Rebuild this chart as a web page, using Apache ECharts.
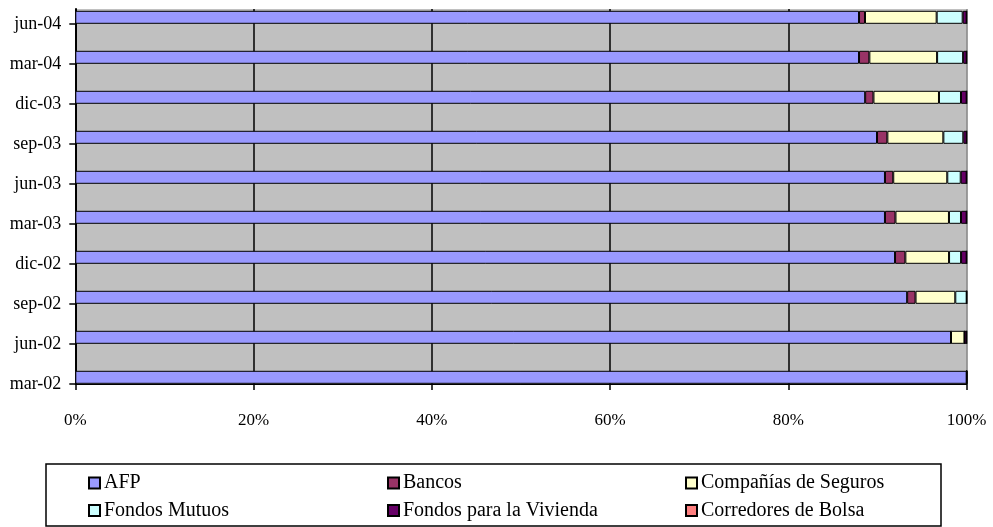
<!DOCTYPE html>
<html>
<head>
<meta charset="utf-8">
<script src="https://cdn.jsdelivr.net/npm/echarts@6/dist/echarts.min.js"></script>
<style>
  html, body { margin: 0; padding: 0; background: #ffffff; }
  #chart { width: 993px; height: 527px; }
</style>
</head>
<body>
<div id="chart"></div>
<script>
// Quarterly dates, bottom to top
const categories = ['mar-02', 'jun-02', 'sep-02', 'dic-02', 'mar-03', 'jun-03', 'sep-03', 'dic-03', 'mar-04', 'jun-04'];

// Share of holdings by holder type (%)
const afp        = [100, 98.24, 93.32, 91.96, 90.83, 90.83, 89.94, 88.61, 87.92, 87.92];
const bancos     = [0, 0, 0.94, 1.16, 1.18, 0.93, 1.16, 0.93, 1.16, 0.67];
const seguros    = [0, 1.51, 4.46, 4.90, 6.00, 6.06, 6.28, 7.35, 7.60, 8.04];
const mutuos     = [0, 0, 1.28, 1.35, 1.35, 1.51, 2.24, 2.47, 2.92, 2.92];
const vivienda   = [0, 0.25, 0, 0.63, 0.64, 0.67, 0.38, 0.64, 0.40, 0.45];
const corredores = [0, 0, 0, 0, 0, 0, 0, 0, 0, 0];

const xTicks = [0, 20, 40, 60, 80, 100];

const seriesDefs = [
  { name: 'AFP', data: afp, color: '#9999FF' },
  { name: 'Bancos', data: bancos, color: '#993366' },
  { name: 'Compañías de Seguros', data: seguros, color: '#FFFFCC' },
  { name: 'Fondos Mutuos', data: mutuos, color: '#CCFFFF' },
  { name: 'Fondos para la Vivienda', data: vivienda, color: '#660066' },
  { name: 'Corredores de Bolsa', data: corredores, color: '#FF8080' }
];

const FONT = 'Liberation Serif';
const chart = echarts.init(document.getElementById('chart'), null, { renderer: 'canvas' });

const series = [];
seriesDefs.forEach(s => {
  series.push({
    type: 'bar', name: s.name, stack: 'total', xAxisIndex: 1, yAxisIndex: 1,
    data: s.data, barWidth: 13, barGap: '3%', clip: false,
    itemStyle: { color: s.color, borderColor: '#000000', borderWidth: 1 },
    emphasis: { disabled: true }
  });
});
// Empty second stack: pushes the visible bar just above each tick
series.push({
  type: 'bar', name: '_pad', stack: 'pad', xAxisIndex: 1, yAxisIndex: 1,
  data: categories.map(() => '-'), barWidth: 13, barGap: '3%', silent: true
});

// Legend: three columns, two rows
const legendPos = [
  { left: 88, top: 473 }, { left: 387, top: 473 }, { left: 685, top: 473 },
  { left: 88, top: 500.5 }, { left: 387, top: 500.5 }, { left: 685, top: 500.5 }
];
const legends = seriesDefs.map((s, i) => ({
  data: [s.name], left: legendPos[i].left, top: legendPos[i].top, padding: 0,
  itemWidth: 11, itemHeight: 11, icon: 'rect', selectedMode: false,
  textStyle: { fontFamily: FONT, fontSize: 20, color: '#000000', padding: [0, 0, 0, -1] }
}));

chart.setOption({
  animation: false,
  backgroundColor: '#ffffff',
  grid: [
    { left: 75.3, right: 26.3, top: 9, bottom: 143, show: true, backgroundColor: '#C0C0C0', borderWidth: 0 },
    { left: 75.3, right: 26.3, top: 24, bottom: 143, show: false }
  ],
  xAxis: [
    {
      type: 'value', gridIndex: 0, min: 0, max: 100, interval: 20,
      axisLine: { show: true, lineStyle: { color: '#000000', width: 1 } },
      axisTick: { show: true, length: 6, lineStyle: { color: '#000000', width: 1.5 } },
      axisLabel: {
        fontFamily: FONT, fontSize: 17, color: '#000000', margin: 28,
        formatter: v => (xTicks.indexOf(v) >= 0 ? v + '%' : '')
      },
      splitLine: { show: true, lineStyle: { color: ['#000000', '#000000', '#000000', '#000000', '#000000', '#808080'], width: 1.5 } }
    },
    { type: 'value', gridIndex: 1, min: 0, max: 100, show: false }
  ],
  yAxis: [
    {
      type: 'value', gridIndex: 0, min: 0, max: 1,
      axisLine: { show: true, lineStyle: { color: '#000000', width: 2 } },
      axisTick: { show: false }, axisLabel: { show: false }, splitLine: { show: false }
    },
    {
      type: 'category', gridIndex: 1, data: categories, boundaryGap: false,
      axisLine: { show: false },
      axisTick: { show: true, length: 6, inside: false, lineStyle: { color: '#000000', width: 1.5 } },
      axisLabel: {
        fontFamily: FONT, fontSize: 18, color: '#000000', margin: 14,
        padding: [0, 0, 8, 0]
      },
      splitLine: { show: false }
    }
  ],
  legend: legends,
  graphic: [{
    type: 'rect', left: 43.5, top: 461.5, silent: true,
    shape: { width: 895, height: 62 },
    style: { fill: 'none', stroke: '#000000', lineWidth: 1.5 }
  }],
  series: series
});
</script>
</body>
</html>
